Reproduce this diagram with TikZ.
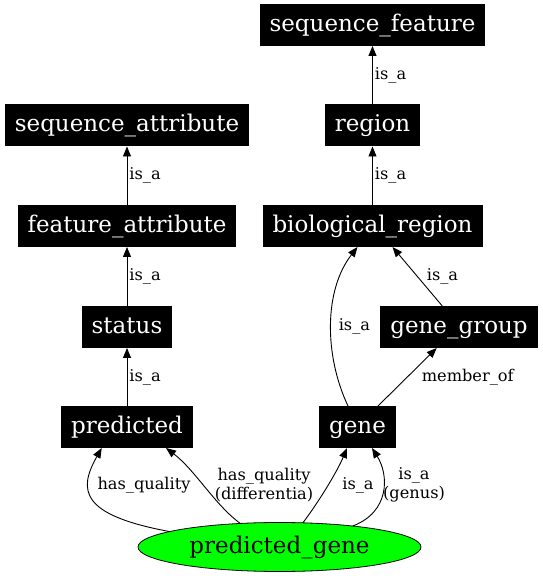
\documentclass[tikz,border=0pt]{standalone}
\usepackage{fontspec}
\setmainfont{DejaVu Serif}
\usetikzlibrary{arrows.meta,shapes.geometric}

\begin{document}
\begin{tikzpicture}[x=1pt, y=1pt, line join=round,
    term/.style={fill=black, text=white, inner xsep=10pt, inner ysep=0pt, outer sep=0pt,
      minimum height=42pt, text height=17pt, text depth=4.5pt,
      font=\fontsize{23}{27}\selectfont},
    leaf/.style={ellipse, draw=black, fill=green, line width=0.8pt, inner sep=0pt, outer sep=0pt,
      minimum width=283pt, minimum height=49pt, font=\fontsize{23}{27}\selectfont},
    edge/.style={-{Triangle[length=10pt,width=8pt]}, line width=0.9pt},
    lbl/.style={font=\fontsize{16.2}{18.5}\selectfont, inner sep=2pt, align=center}]
    \useasboundingbox (0,0) rectangle (542,576);
    \node[term] (sf) at (372.5,551) {sequence\_feature};
    \node[term] (reg) at (372.5,450.5) {region};
    \node[term] (bio) at (372.5,350) {biological\_region};
    \node[term] (gg) at (459,249) {gene\_group};
    \node[term] (gene) at (357.5,149) {gene};
    \node[term] (sa) at (127,450.5) {sequence\_attribute};
    \node[term] (fa) at (127,350) {feature\_attribute};
    \node[term] (st) at (127,249) {status};
    \node[term] (pr) at (127,149) {predicted};
    \node[leaf] (pg) at (279.5,29) {predicted\_gene};
    \draw[edge] (reg) -- node[lbl, right] (l1) {is\_a} (sf);
    \draw[edge] (bio) -- node[lbl, right] (l2) {is\_a} (reg);
    \draw[edge] (fa) -- node[lbl, right] (l3) {is\_a} (sa);
    \draw[edge] (st) -- node[lbl, right] (l4) {is\_a} (fa);
    \draw[edge] (pr) -- node[lbl, right] (l5) {is\_a} (st);
    \draw[edge] ([xshift=-16.7]gg.north) -- node[lbl, right, xshift=7] (l6) {is\_a} ([xshift=20]bio.south);
    \draw[edge] ([xshift=20.5]gene.north) -- node[lbl, right, xshift=12] (l7) {member\_of} ([xshift=-22.3]gg.south);
    \draw[edge] ([xshift=-9.5]gene.north) .. controls (324,221) and (324,286) .. ([xshift=-15]bio.south)
      node[lbl, at={(354.4,249.3)}] (l8) {is\_a};
    \draw[edge] (pg.172) .. controls (80,61) and (78,86) .. ([xshift=-25.3]pr.south)
      node[lbl, at={(144,91)}] (l9) {has\_quality};
    \draw[edge] (pg.149) .. controls (215,71) and (195,106) .. ([xshift=39]pr.south)
      node[lbl, at={(264,91)}] (l10) {has\_quality\\(differentia)};
    \draw[edge] (pg.46) .. controls (318,73) and (337,104) .. ([xshift=-10.5]gene.south)
      node[lbl, at={(358,91)}] (l11) {is\_a};
    \draw[edge] (pg.16) .. controls (390,64) and (389,101) .. ([xshift=14.5]gene.south)
      node[lbl, at={(414,91)}] (l12) {is\_a\\(genus)};
\end{tikzpicture}
\end{document}
